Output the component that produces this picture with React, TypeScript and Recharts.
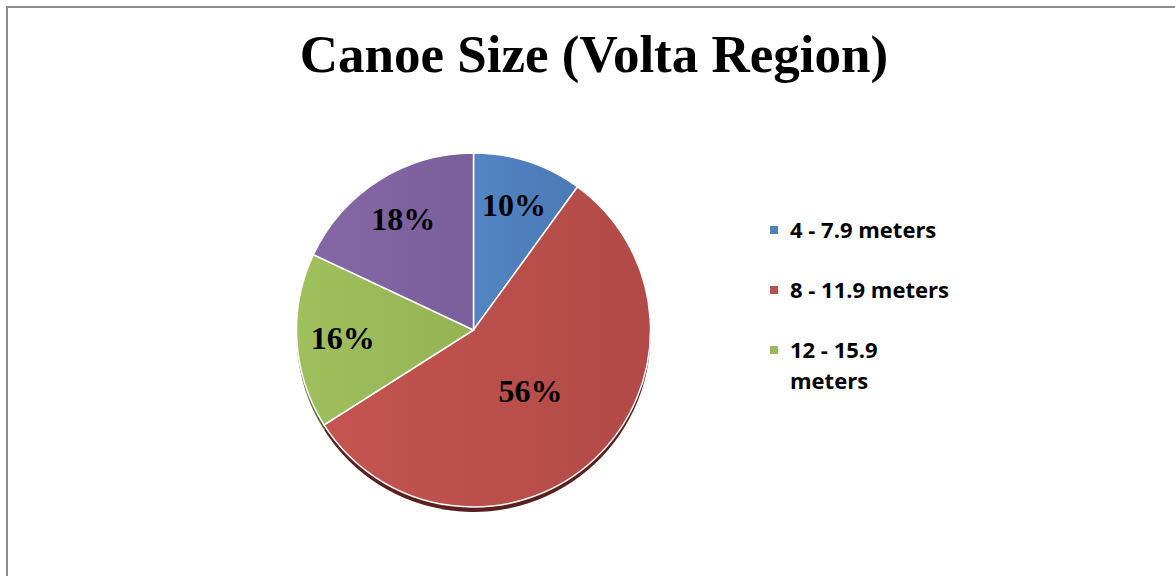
import React from 'react';
import { PieChart, Pie, Cell, Legend } from 'recharts';

const categories = ['4 - 7.9 meters', '8 - 11.9 meters', '12 - 15.9 meters', '16 - 19.9 meters'];
const shares = [10, 56, 16, 18];
const colorsLight = ['#5385c3', '#c4544f', '#a0c05e', '#8468a6'];
const colorsDark = ['#4a7ab5', '#b24a47', '#94b353', '#7a5f9c'];
const legendColors = ['#4f81bd', '#c0504d', '#9bbb59', '#8064a2'];
const shadowColors = ['#2c4a70', '#5a1f1e', '#55692f', '#46375e'];
const LEGEND_VISIBLE = 3;

const data = categories.map((name, i) => ({ name, value: shares[i] }));

const W = 1175;
const H = 576;
const CX = 473.5;
const CY = 330;
const R = 177;

const RADIAN = Math.PI / 180;
const SERIF = "'Liberation Serif', Tinos, 'Times New Roman', Times, serif";

const renderLabel = (props: any) => {
  const { cx, cy, midAngle, outerRadius, percent, value } = props;
  const f = percent > 0.5 ? 0.47 : 0.74;
  const r = outerRadius * f;
  const x = cx + r * Math.cos(-midAngle * RADIAN);
  const y = cy + r * Math.sin(-midAngle * RADIAN);
  return (
    <text
      x={x}
      y={y}
      textAnchor="middle"
      dominantBaseline="central"
      fontFamily={SERIF}
      fontWeight={700}
      fontSize={32}
      fill="#000"
    >
      {`${value}%`}
    </text>
  );
};

const renderLegend = () => (
  <div
    style={{
      fontFamily: "'Open Sans', Lato, sans-serif",
      fontWeight: 700,
      fontSize: 22,
      lineHeight: '31px',
      color: '#000',
      width: 200,
    }}
  >
    {categories.slice(0, LEGEND_VISIBLE).map((name, i) => (
      <div key={i} style={{ display: 'flex', alignItems: 'flex-start', marginBottom: 29 }}>
        <span
          style={{
            width: 8,
            height: 8,
            background: legendColors[i],
            marginTop: 12,
            marginRight: 12,
            flex: 'none',
          }}
        />
        <span style={{ width: 164 }}>{name}</span>
      </div>
    ))}
  </div>
);

export default function App() {
  return (
    <div style={{ position: 'absolute', left: 0, top: 0, width: W, height: H, background: '#fff', overflow: 'hidden' }}>
      <div
        style={{
          position: 'absolute',
          left: 6,
          top: 6,
          width: W,
          height: H,
          borderLeft: '2px solid #8c8c8c',
          borderTop: '2px solid #8c8c8c',
        }}
      />
      <div
        style={{
          position: 'absolute',
          left: 0,
          top: 24,
          width: 1188,
          textAlign: 'center',
          fontFamily: SERIF,
          fontWeight: 700,
          fontSize: 53,
          color: '#000',
          whiteSpace: 'nowrap',
        }}
      >
        Canoe Size (Volta Region)
      </div>
      <div style={{ position: 'absolute', left: 0, top: 0 }}>
        <PieChart width={W} height={H} margin={{ top: 0, right: 0, bottom: 0, left: 0 }}>
          <defs>
            {colorsLight.map((c, i) => (
              <linearGradient key={i} id={`grad${i}`} x1="0" y1="0" x2="1" y2="0">
                <stop offset="0%" stopColor={c} />
                <stop offset="100%" stopColor={colorsDark[i]} />
              </linearGradient>
            ))}
          </defs>
          <Pie
            data={data}
            dataKey="value"
            nameKey="name"
            cx={CX}
            cy={CY + 5}
            outerRadius={R}
            startAngle={90}
            endAngle={-270}
            stroke="none"
            isAnimationActive={false}
            legendType="none"
          >
            {data.map((_, i) => (
              <Cell key={i} fill={shadowColors[i]} />
            ))}
          </Pie>
          <Pie
            data={data}
            dataKey="value"
            nameKey="name"
            cx={CX}
            cy={CY}
            outerRadius={R}
            startAngle={90}
            endAngle={-270}
            stroke="#ffffff"
            strokeWidth={1.5}
            isAnimationActive={false}
            label={renderLabel}
            labelLine={false}
          >
            {data.map((_, i) => (
              <Cell key={i} fill={`url(#grad${i})`} />
            ))}
          </Pie>
          <Legend
            content={renderLegend}
            wrapperStyle={{ position: 'absolute', left: 770, top: 214, width: 200 }}
          />
        </PieChart>
      </div>
    </div>
  );
}
